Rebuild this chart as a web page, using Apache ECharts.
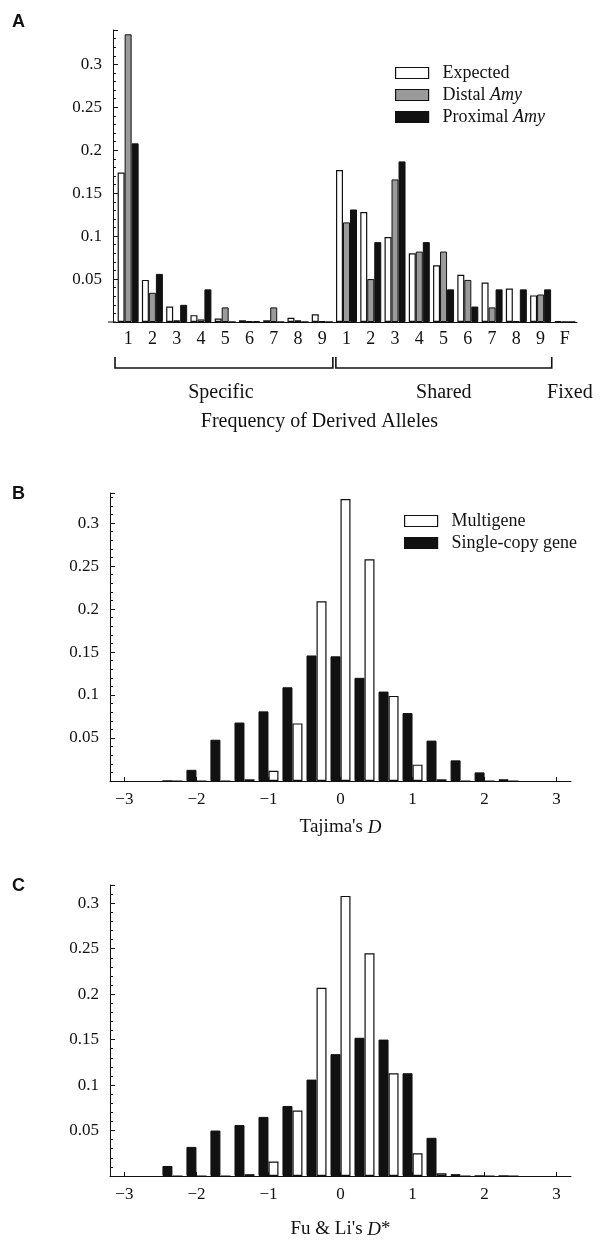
<!DOCTYPE html>
<html><head><meta charset="utf-8">
<script src="https://cdn.jsdelivr.net/npm/echarts@6/dist/echarts.min.js"></script>
<style>html,body{margin:0;padding:0;background:#fff}#c{width:600px;height:1240px}</style>
</head><body><div id="c"></div>
<script>
// ---------- Panel A data ----------
const alleleCategories = ['1','2','3','4','5','6','7','8','9','1','2','3','4','5','6','7','8','9','F'];
const expected    = [0.174,0.049,0.018,0.008,0.004,0.002,0.002,0.005,0.009, 0.177,0.128,0.099,0.080,0.066,0.055,0.046,0.039,0.031, 0.001];
const distalAmy   = [0.335,0.034,0.002,0.003,0.017,0.001,0.017,0.002,0.001, 0.116,0.050,0.166,0.082,0.082,0.049,0.017,0.001,0.032, 0];
const proximalAmy = [0.208,0.056,0.020,0.038,0.000,0.001,0.000,0.000,0.000, 0.131,0.093,0.187,0.093,0.038,0.018,0.038,0.038,0.038, 0];
const groupLabels = ['Specific','Shared','Fixed'];

// ---------- Panels B and C data (bin centres of the statistic) ----------
const dBins = [-2.333,-2,-1.667,-1.333,-1,-0.667,-0.333,0,0.333,0.667,1,1.333,1.667,2,2.333];
const tajimaMulti  = [0,0,0,0.002,0.012,0.067,0.209,0.328,0.258,0.099,0.019,0.002,0,0,0];
const tajimaSingle = [0,0.013,0.048,0.068,0.081,0.109,0.146,0.145,0.120,0.104,0.079,0.047,0.024,0.010,0.002];
const fuliMulti    = [0,0,0,0.002,0.016,0.072,0.207,0.308,0.245,0.113,0.025,0.003,0,0,0];
const fuliSingle   = [0.011,0.032,0.050,0.056,0.065,0.077,0.106,0.134,0.152,0.150,0.113,0.042,0.002,0,0];
const dTicks = [-3,-2,-1,0,1,2,3];

const SERIF = '"Liberation Serif","DejaVu Serif",serif';
const SANS = '"Liberation Sans",Arial,sans-serif';
const INK = '#111';
const GRAY = '#9a9a9a';

const chart = echarts.init(document.getElementById('c'), null, {renderer:'canvas'});

function yAxisCfg(gridIndex, max, offset){
  return {
    type:'value', gridIndex, min:0, max, interval:0.05, offset:offset||0,
    axisLine:{show:true, onZero:false, lineStyle:{color:INK, width:1}},
    axisTick:{show:true, inside:true, length:5, lineStyle:{color:INK}},
    minorTick:{show:true, splitNumber:5, length:3, lineStyle:{color:INK}},
    splitLine:{show:false}, minorSplitLine:{show:false},
    axisLabel:{color:INK, fontFamily:SERIF, fontSize:17, margin:11,
      formatter: v => { const k = v/0.05; return (v>0.001 && Math.abs(k-Math.round(k))<1e-6) ? String(+v.toFixed(2)) : ''; }}
  };
}
function dAxisCfg(gridIndex, name, nameGap){
  return {
    type:'value', gridIndex, min:-3.2, max:3.2,
    axisLine:{show:true, onZero:false, lineStyle:{color:INK, width:1}},
    axisTick:{show:true, inside:true, length:4, customValues:dTicks, lineStyle:{color:INK}},
    splitLine:{show:false},
    axisLabel:{color:INK, fontFamily:SERIF, fontSize:17, margin:10, customValues:dTicks,
      formatter: v => v<0 ? '\u2212'+(-v) : String(v)},
    name, nameLocation:'middle', nameGap,
    nameTextStyle:{color:INK, fontFamily:SERIF, fontSize:19,
      rich:{i:{fontStyle:'italic', fontFamily:SERIF, fontSize:19, color:INK}}}
  };
}
const pairs = (xs, ys) => xs.map((x,i)=>[x, ys[i]]);
const legendText = {fontFamily:SERIF, fontSize:18, color:INK, padding:[0,0,0,9],
  rich:{i:{fontStyle:'italic', fontFamily:SERIF, fontSize:18, color:INK}}};

const option = {
  animation:false,
  backgroundColor:'#fff',
  grid:[
    {left:116, top:30, width:461, height:292},
    {left:110, top:493, width:461, height:288},
    {left:110, top:885, width:461, height:293}
  ],
  xAxis:[
    {type:'category', gridIndex:0, data:alleleCategories,
      axisLine:{show:true, lineStyle:{color:INK, width:1}},
      axisTick:{show:false},
      axisLabel:{color:INK, fontFamily:SERIF, fontSize:18, margin:8, interval:0}},
    dAxisCfg(1, "Tajima's {i|D}", 37),
    dAxisCfg(2, "Fu & Li's {i|D}*", 44)
  ],
  yAxis:[ yAxisCfg(0, 0.34, 3), yAxisCfg(1, 0.335), yAxisCfg(2, 0.32) ],
  legend:[
    {orient:'vertical', left:395, top:64, padding:0, itemWidth:33, itemHeight:11, itemGap:4, icon:'rect',
      selectedMode:false, textStyle:legendText,
      formatter: n => n.replace('Amy','{i|Amy}'),
      data:[
        {name:'Expected', itemStyle:{color:'#fff', borderColor:INK, borderWidth:1.2}},
        {name:'Distal Amy', itemStyle:{color:GRAY, borderColor:INK, borderWidth:1.2}},
        {name:'Proximal Amy', itemStyle:{color:INK, borderColor:INK, borderWidth:1.2}}
      ]},
    {orient:'vertical', left:404, top:512, padding:0, itemWidth:33, itemHeight:11, itemGap:4, icon:'rect',
      selectedMode:false, textStyle:legendText,
      data:[
        {name:'Multigene', itemStyle:{color:'#fff', borderColor:INK, borderWidth:1.2}},
        {name:'Single-copy gene', itemStyle:{color:INK, borderColor:INK, borderWidth:1.2}}
      ]}
  ],
  series:[
    {name:'Expected', type:'bar', xAxisIndex:0, yAxisIndex:0, data:expected, barWidth:7, barGap:'0%',
      itemStyle:{color:'#fff', borderColor:INK, borderWidth:1.2}},
    {name:'Distal Amy', type:'bar', xAxisIndex:0, yAxisIndex:0, data:distalAmy, barWidth:7, barGap:'0%',
      itemStyle:{color:GRAY, borderColor:INK, borderWidth:1}},
    {name:'Proximal Amy', type:'bar', xAxisIndex:0, yAxisIndex:0, data:proximalAmy, barWidth:7, barGap:'0%',
      itemStyle:{color:INK, borderColor:INK, borderWidth:1}},
    {name:'Single-copy gene', type:'bar', xAxisIndex:1, yAxisIndex:1, data:pairs(dBins, tajimaSingle), barWidth:10, barGap:'0%',
      itemStyle:{color:INK, borderColor:INK, borderWidth:1}},
    {name:'Multigene', type:'bar', xAxisIndex:1, yAxisIndex:1, data:pairs(dBins, tajimaMulti), barWidth:10, barGap:'0%',
      itemStyle:{color:'#fff', borderColor:INK, borderWidth:1.2}},
    {name:'Single-copy gene ', type:'bar', xAxisIndex:2, yAxisIndex:2, data:pairs(dBins, fuliSingle), barWidth:10, barGap:'0%',
      itemStyle:{color:INK, borderColor:INK, borderWidth:1}},
    {name:'Multigene ', type:'bar', xAxisIndex:2, yAxisIndex:2, data:pairs(dBins, fuliMulti), barWidth:10, barGap:'0%',
      itemStyle:{color:'#fff', borderColor:INK, borderWidth:1.2}}
  ]
};
chart.setOption(option);

// panel letters, brackets and group labels under panel A
const px = i => chart.convertToPixel({xAxisIndex:0}, i);
const y0 = chart.convertToPixel({yAxisIndex:0}, 0);
const band = px(1) - px(0);
const bTop = y0 + 35, bBot = y0 + 46;
const bracket = (x1, x2) => ({type:'polyline', shape:{points:[[x1,bTop],[x1,bBot],[x2,bBot],[x2,bTop]]},
  style:{stroke:INK, lineWidth:1.6, fill:null}});
const lx1 = px(0) - band/2 - 1, lx2 = px(8) + band/2 - 1.5;
const rx1 = px(9) - band/2 + 1.5, rx2 = px(17) + band/2 - 1;
const gText = (x, text) => ({type:'text', x, y:y0+71, style:{text, font:'20px '+SERIF, fill:INK, align:'center', verticalAlign:'middle'}});
chart.setOption({graphic:[
  {type:'text', left:12, top:13, style:{text:'A', font:'bold 18px '+SANS, fill:INK}},
  {type:'text', left:12, top:485, style:{text:'B', font:'bold 18px '+SANS, fill:INK}},
  {type:'text', left:12, top:877, style:{text:'C', font:'bold 18px '+SANS, fill:INK}},
  // extend the A baseline slightly past the axis ends, as in the original
  {type:'line', shape:{x1:px(0)-band/2-8, y1:y0, x2:px(0)-band/2, y2:y0}, style:{stroke:INK, lineWidth:1}},
  bracket(lx1, lx2), bracket(rx1, rx2),
  gText((lx1+lx2)/2 - 3, groupLabels[0]),
  gText((rx1+rx2)/2, groupLabels[1]),
  gText(px(18)+5, groupLabels[2]),
  {type:'text', x:(lx1+rx2)/2 - 14, y:y0+100, style:{text:'Frequency of Derived Alleles', font:'20px '+SERIF, fill:INK, align:'center', verticalAlign:'middle'}}
]});
</script></body></html>
